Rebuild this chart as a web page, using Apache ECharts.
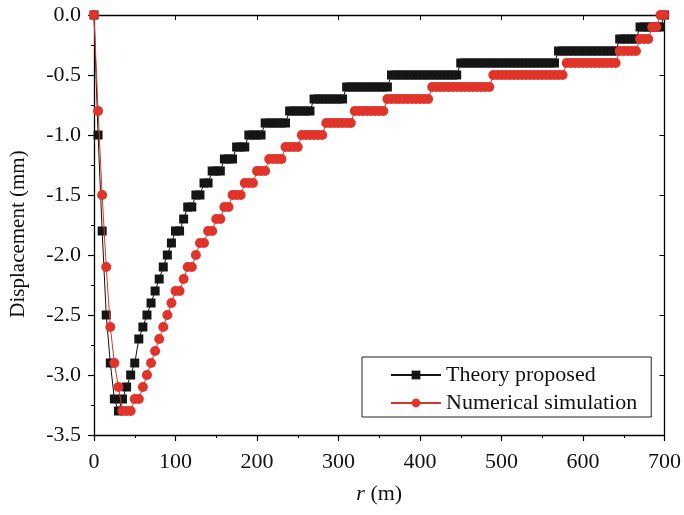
<!DOCTYPE html>
<html>
<head>
<meta charset="utf-8">
<script src="https://cdn.jsdelivr.net/npm/echarts@6/dist/echarts.min.js"></script>
<style>html,body{margin:0;padding:0;background:#fff}#c{width:684px;height:515px}</style>
</head>
<body>
<div id="c"></div>
<script>
// r (m)
var rValues = [0,5,10,15,20,25,30,35,40,45,50,55,60,65,70,75,80,85,90,95,
100,105,110,115,120,125,130,135,140,145,150,155,160,165,170,175,180,185,190,195,
200,205,210,215,220,225,230,235,240,245,250,255,260,265,270,275,280,285,290,295,
300,305,310,315,320,325,330,335,340,345,350,355,360,365,370,375,380,385,390,395,
400,405,410,415,420,425,430,435,440,445,450,455,460,465,470,475,480,485,490,495,
500,505,510,515,520,525,530,535,540,545,550,555,560,565,570,575,580,585,590,595,
600,605,610,615,620,625,630,635,640,645,650,655,660,665,670,675,680,685,690,695,700];

// Theory proposed displacement (mm)
var theoryDisp = [0,-1.0,-1.8,-2.5,-2.9,-3.2,-3.3,-3.2,-3.1,-3.0,
-2.9,-2.7,-2.6,-2.5,-2.4,-2.3,-2.2,-2.1,-2.0,-1.9,
-1.8,-1.8,-1.7,-1.6,-1.6,-1.5,-1.5,-1.4,-1.4,-1.3,
-1.3,-1.3,-1.2,-1.2,-1.2,-1.1,-1.1,-1.1,-1.0,-1.0,
-1.0,-1.0,-0.9,-0.9,-0.9,-0.9,-0.9,-0.9,-0.8,-0.8,
-0.8,-0.8,-0.8,-0.8,-0.7,-0.7,-0.7,-0.7,-0.7,-0.7,
-0.7,-0.7,-0.6,-0.6,-0.6,-0.6,-0.6,-0.6,-0.6,-0.6,
-0.6,-0.6,-0.6,-0.5,-0.5,-0.5,-0.5,-0.5,-0.5,-0.5,
-0.5,-0.5,-0.5,-0.5,-0.5,-0.5,-0.5,-0.5,-0.5,-0.5,
-0.4,-0.4,-0.4,-0.4,-0.4,-0.4,-0.4,-0.4,-0.4,-0.4,
-0.4,-0.4,-0.4,-0.4,-0.4,-0.4,-0.4,-0.4,-0.4,-0.4,
-0.4,-0.4,-0.4,-0.4,-0.3,-0.3,-0.3,-0.3,-0.3,-0.3,
-0.3,-0.3,-0.3,-0.3,-0.3,-0.3,-0.3,-0.3,-0.3,-0.2,
-0.2,-0.2,-0.2,-0.2,-0.1,-0.1,-0.1,-0.1,-0.1,-0.1,
0.0];

// Numerical simulation displacement (mm)
var numericalDisp = [0,-0.8,-1.5,-2.1,-2.6,-2.9,-3.1,-3.3,-3.3,-3.3,
-3.2,-3.2,-3.1,-3.0,-2.9,-2.8,-2.7,-2.6,-2.5,-2.4,
-2.3,-2.3,-2.2,-2.1,-2.1,-2.0,-1.9,-1.9,-1.8,-1.8,
-1.7,-1.7,-1.6,-1.6,-1.5,-1.5,-1.5,-1.4,-1.4,-1.4,
-1.3,-1.3,-1.3,-1.2,-1.2,-1.2,-1.2,-1.1,-1.1,-1.1,
-1.1,-1.0,-1.0,-1.0,-1.0,-1.0,-1.0,-0.9,-0.9,-0.9,
-0.9,-0.9,-0.9,-0.9,-0.8,-0.8,-0.8,-0.8,-0.8,-0.8,
-0.8,-0.8,-0.7,-0.7,-0.7,-0.7,-0.7,-0.7,-0.7,-0.7,
-0.7,-0.7,-0.7,-0.6,-0.6,-0.6,-0.6,-0.6,-0.6,-0.6,
-0.6,-0.6,-0.6,-0.6,-0.6,-0.6,-0.6,-0.6,-0.5,-0.5,
-0.5,-0.5,-0.5,-0.5,-0.5,-0.5,-0.5,-0.5,-0.5,-0.5,
-0.5,-0.5,-0.5,-0.5,-0.5,-0.5,-0.4,-0.4,-0.4,-0.4,
-0.4,-0.4,-0.4,-0.4,-0.4,-0.4,-0.4,-0.4,-0.4,-0.3,
-0.3,-0.3,-0.3,-0.3,-0.2,-0.2,-0.2,-0.1,-0.1,0.0,
0.0];

var seriesNames = ['Theory proposed', 'Numerical simulation'];
var xAxisTitle = 'r';
var xAxisUnit = ' (m)';
var yAxisTitle = 'Displacement (mm)';

function pairs(ys) { return rValues.map(function (x, i) { return [x, ys[i]]; }); }

var font = 'Liberation Serif, Times New Roman, serif';
var axisLineStyle = { color: '#000', width: 1.3 };

var chart = echarts.init(document.getElementById('c'), null, { renderer: 'canvas' });
chart.setOption({
  animation: false,
  backgroundColor: '#fff',
  grid: { left: 94, right: 15, top: 15, bottom: 80, containLabel: false },
  legend: {
    orient: 'vertical',
    left: 362, top: 357,
    width: 293,
    padding: [7, 14, 3, 28],
    borderColor: '#222', borderWidth: 1,
    itemWidth: 50, itemHeight: 11, itemGap: 6,
    textStyle: { fontFamily: font, fontSize: 22, color: '#111' },
    data: seriesNames
  },
  xAxis: [{
    type: 'value', min: 0, max: 700, interval: 100,
    position: 'bottom',
    name: '{i|' + xAxisTitle + '}' + xAxisUnit,
    nameLocation: 'middle', nameGap: 48,
    nameTextStyle: { fontFamily: font, fontSize: 22, color: '#111',
      rich: { i: { fontFamily: font, fontSize: 22, fontStyle: 'italic', color: '#111' } } },
    axisLine: { show: true, onZero: false, lineStyle: axisLineStyle },
    axisTick: { show: true, inside: false, length: 6, lineStyle: { color: '#000', width: 1.2 } },
    minorTick: { show: true, splitNumber: 2, length: 3, lineStyle: { color: '#000', width: 1 } },
    axisLabel: { fontFamily: font, fontSize: 22, color: '#111', margin: 16 },
    splitLine: { show: false }
  }, {
    type: 'value', min: 0, max: 700, interval: 100,
    position: 'top',
    axisLine: { show: true, onZero: false, lineStyle: axisLineStyle },
    axisTick: { show: true, inside: true, length: 5, lineStyle: { color: '#000', width: 1 } },
    minorTick: { show: false },
    axisLabel: { show: false },
    splitLine: { show: false }
  }],
  yAxis: [{
    type: 'value', min: -3.5, max: 0, interval: 0.5,
    position: 'left',
    name: yAxisTitle,
    nameLocation: 'middle', nameGap: 65, nameRotate: 90,
    nameTextStyle: { fontFamily: font, fontSize: 21, color: '#111', padding: [0, 18, 0, 0] },
    axisLine: { show: true, onZero: false, lineStyle: axisLineStyle },
    axisTick: { show: true, inside: false, length: 6, lineStyle: { color: '#000', width: 1.2 } },
    minorTick: { show: true, splitNumber: 2, length: 3, lineStyle: { color: '#000', width: 1 } },
    axisLabel: { fontFamily: font, fontSize: 22, color: '#111', margin: 13,
      formatter: function (v) { return v.toFixed(1); } },
    splitLine: { show: false }
  }, {
    type: 'value', min: -3.5, max: 0, interval: 0.5,
    position: 'right',
    axisLine: { show: true, onZero: false, lineStyle: axisLineStyle },
    axisTick: { show: true, inside: true, length: 5, lineStyle: { color: '#000', width: 1 } },
    minorTick: { show: false },
    axisLabel: { show: false },
    splitLine: { show: false }
  }],
  series: [{
    name: seriesNames[0], type: 'line',
    data: pairs(theoryDisp),
    symbol: 'rect', symbolSize: 9, showAllSymbol: true,
    lineStyle: { color: '#111', width: 1 },
    itemStyle: { color: '#151515' },
    clip: false, z: 2
  }, {
    name: seriesNames[1], type: 'line',
    data: pairs(numericalDisp),
    symbol: 'circle', symbolSize: 10, showAllSymbol: true,
    lineStyle: { color: '#e0342a', width: 1 },
    itemStyle: { color: '#e0342a' },
    clip: false, z: 3
  }]
});
</script>
</body>
</html>
